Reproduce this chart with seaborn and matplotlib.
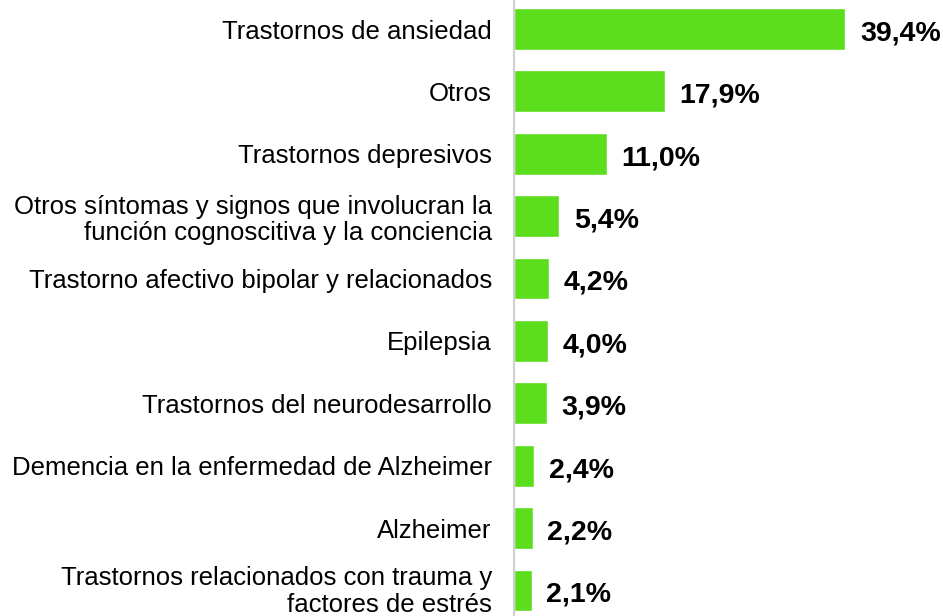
import matplotlib
matplotlib.use("Agg")
import matplotlib.pyplot as plt
import matplotlib.transforms as mtrans
import seaborn as sns
import pandas as pd

categories = [
    "Trastornos de ansiedad",
    "Otros",
    "Trastornos depresivos",
    "Otros síntomas y signos que involucran la\nfunción cognoscitiva y la conciencia",
    "Trastorno afectivo bipolar y relacionados",
    "Epilepsia",
    "Trastornos del neurodesarrollo",
    "Demencia en la enfermedad de Alzheimer",
    "Alzheimer",
    "Trastornos relacionados con trauma y\nfactores de estrés",
]
values = [39.4, 17.9, 11.0, 5.4, 4.2, 4.0, 3.9, 2.4, 2.2, 2.1]
value_labels = ["39,4%", "17,9%", "11,0%", "5,4%", "4,2%", "4,0%", "3,9%", "2,4%", "2,2%", "2,1%"]

df = pd.DataFrame({"cat": categories, "val": values})

sns.set_theme(style="white")
plt.rcParams["font.family"] = ["Liberation Sans", "DejaVu Sans"]

fig = plt.figure(figsize=(9.43, 6.16), dpi=100)
ax = fig.add_axes([514 / 943, 0, 1 - 514 / 943, 1])
sns.barplot(data=df, y="cat", x="val", orient="h", color="#5CDE1C",
            saturation=1, width=0.67, ax=ax)

ax.set_xlim(0, 51)
ax.set_ylim(9.41, -0.465)
ax.set_xlabel("")
ax.set_ylabel("")
ax.set_xticks([])
for s in ["top", "right", "bottom"]:
    ax.spines[s].set_visible(False)
ax.spines["left"].set_color("#d0d0d0")
ax.spines["left"].set_linewidth(1.5)
ax.tick_params(axis="y", length=0, pad=16, labelsize=18.5, labelcolor="#000000")
labels = ax.get_yticklabels()
for t in labels:
    t.set_linespacing(1.15)
last = labels[-1]
last.set_transform(last.get_transform() +
                   mtrans.ScaledTranslation(0, 3 / 100, fig.dpi_scale_trans))

for i, (v, lab) in enumerate(zip(values, value_labels)):
    ax.text(v + 1.75, i + 0.07, lab, va="center", ha="left",
            fontsize=20.5, fontweight="bold", color="#000000")

fig.savefig("out.png", dpi=100)
